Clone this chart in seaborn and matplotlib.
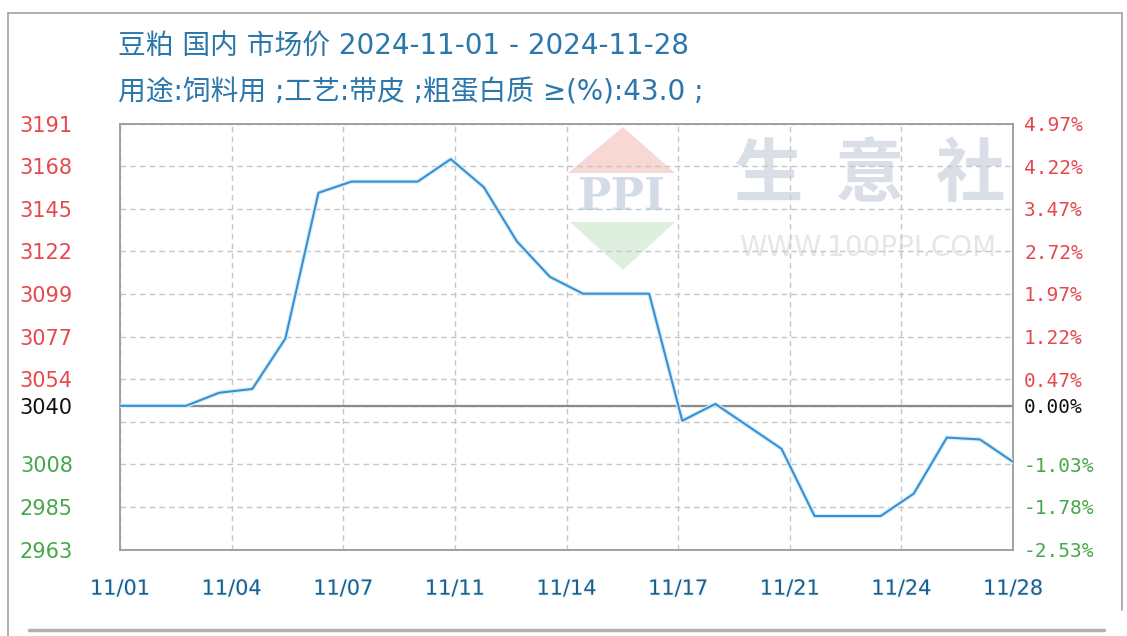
import matplotlib
matplotlib.use('Agg')
import matplotlib.pyplot as plt
import matplotlib.patheffects as pe
from matplotlib.patches import Polygon
from matplotlib.lines import Line2D
import numpy as np
import seaborn as sns

# daily soybean meal prices, 11/01 - 11/28
dates = ['11/01', '11/02', '11/03', '11/04', '11/05', '11/06', '11/07',
         '11/08', '11/09', '11/10', '11/11', '11/12', '11/13', '11/14',
         '11/15', '11/16', '11/17', '11/18', '11/19', '11/20', '11/21',
         '11/22', '11/23', '11/24', '11/25', '11/26', '11/27', '11/28']
prices = [3040, 3040, 3040, 3047, 3049, 3076, 3154,
          3160, 3160, 3160, 3172, 3157, 3128, 3109,
          3100, 3100, 3100, 3032, 3041, 3029, 3017,
          2981, 2981, 2981, 2993, 3023, 3022, 3010]

base_price = 3040
pct_ticks = [4.97, 4.22, 3.47, 2.72, 1.97, 1.22, 0.47, 0.00, -0.28, -1.03, -1.78, -2.53]
left_labels = ['3191', '3168', '3145', '3122', '3099', '3077', '3054', '3040', '', '3008', '2985', '2963']
right_labels = ['4.97%', '4.22%', '3.47%', '2.72%', '1.97%', '1.22%', '0.47%', '0.00%', '', '-1.03%', '-1.78%', '-2.53%']
x_labels = ['11/01', '11/04', '11/07', '11/11', '11/14', '11/17', '11/21', '11/24', '11/28']

title1 = '豆粕 国内 市场价 2024-11-01 - 2024-11-28'
title2 = '用途:饲料用 ;工艺:带皮 ;粗蛋白质 ≥(%):43.0 ;'

W, H = 1127, 636


def fx(x):
    return x / W


def fy(y):
    return 1 - y / H


def tick_color(p):
    if p > 0:
        return '#e5484d'
    if p < 0:
        return '#45a84a'
    return '#111111'


sns.set_style('white')
plt.rcParams['font.family'] = ['Noto Sans CJK SC', 'DejaVu Sans']

fig = plt.figure(figsize=(W / 100, H / 100), dpi=100)
fig.patch.set_facecolor('white')
ax = fig.add_axes([fx(120), fy(549.5), (1013 - 120) / W, 426 / H])
ax.set_facecolor('white')

# watermark
wm_kw = dict(transform=fig.transFigure, zorder=0.3)
ax.add_patch(Polygon([(fx(568), fy(173)), (fx(675), fy(173)), (fx(623), fy(127))],
                     closed=True, facecolor='#f6cfca', edgecolor='none', alpha=0.8, **wm_kw))
ax.add_patch(Polygon([(fx(570), fy(222)), (fx(675), fy(222)), (fx(623), fy(270))],
                     closed=True, facecolor='#d6ecd8', edgecolor='none', alpha=0.8, **wm_kw))
ax.text(fx(622), fy(198), 'PPI', ha='center', va='center', fontsize=32, fontweight='bold',
        family='DejaVu Serif', color='#d3dbe6', **wm_kw)
ax.text(fx(870), fy(176), '生  意  社', ha='center', va='center', fontsize=50, fontweight='bold',
        color='#dadfe7', **wm_kw)
ax.text(fx(868), fy(248), 'WWW.100PPI.COM', ha='center', va='center', fontsize=20,
        family='DejaVu Sans', color='#e6e6e6', **wm_kw)

x = np.arange(len(prices))
sns.lineplot(x=x, y=prices, ax=ax, color='#3b8fcf', linewidth=1.5, zorder=3,
             path_effects=[pe.Stroke(linewidth=3.2, foreground='#d4f0ff'), pe.Normal()])

ax.axhline(base_price, color='#8a8a8a', linewidth=1.6, zorder=2)

ax.set_xlim(0, len(prices) - 1)
ax.set_ylim(base_price * (1 + pct_ticks[-1] / 100), base_price * (1 + pct_ticks[0] / 100))

ytick_vals = [base_price * (1 + p / 100) for p in pct_ticks]
ax.set_yticks(ytick_vals)
ax.set_yticklabels(left_labels, family='DejaVu Sans', fontsize=15)
for lbl, p in zip(ax.get_yticklabels(), pct_ticks):
    lbl.set_color(tick_color(p))

xtick_vals = np.linspace(0, len(prices) - 1, len(x_labels))
ax.set_xticks(xtick_vals)
ax.set_xticklabels(x_labels, family=['Liberation Sans Narrow', 'DejaVu Sans'], fontsize=15,
                   color='#1f5c88')
for lbl in ax.get_xticklabels():
    lbl.set_path_effects([pe.withStroke(linewidth=1.5, foreground='#e2f7ff')])

ax.tick_params(axis='y', length=0, pad=34)
ax.tick_params(axis='x', length=0, pad=21)
ax.grid(True, linestyle=(0, (4, 3)), color='#c6c6c6', linewidth=1.0)
ax.set_axisbelow(True)
ax.set_xlabel('')
ax.set_ylabel('')
for s in ax.spines.values():
    s.set_color('#9a9a9a')
    s.set_linewidth(1.3)

ax2 = ax.twinx()
ax2.set_ylim(ax.get_ylim())
ax2.set_yticks(ytick_vals)
ax2.set_yticklabels(right_labels, family='DejaVu Sans Mono', fontsize=14)
for lbl, p in zip(ax2.get_yticklabels(), pct_ticks):
    lbl.set_color(tick_color(p))
ax2.tick_params(axis='y', length=0, pad=8)
ax2.grid(False)
for s in ax2.spines.values():
    s.set_visible(False)

# titles
title_font = ['DejaVu Sans', 'Noto Sans CJK SC']
fig.text(fx(118), fy(47), title1, ha='left', va='center', fontsize=20, color='#2b77ab',
         family=title_font)
fig.text(fx(118), fy(92), title2, ha='left', va='center', fontsize=20, color='#2b77ab',
         family=title_font)

# outer frame
frame_kw = dict(transform=fig.transFigure, color='#a8a8a8', linewidth=1.3)
fig.add_artist(Line2D([fx(8), fx(1122)], [fy(13), fy(13)], **frame_kw))
fig.add_artist(Line2D([fx(8), fx(8)], [fy(13), fy(636)], **frame_kw))
fig.add_artist(Line2D([fx(1122), fx(1122)], [fy(13), fy(610)], **frame_kw))
fig.add_artist(Line2D([fx(29), fx(1104)], [fy(630), fy(630)], transform=fig.transFigure,
                      color='#b0b0b0', linewidth=2.5))

fig.savefig('out.png', dpi=100)
